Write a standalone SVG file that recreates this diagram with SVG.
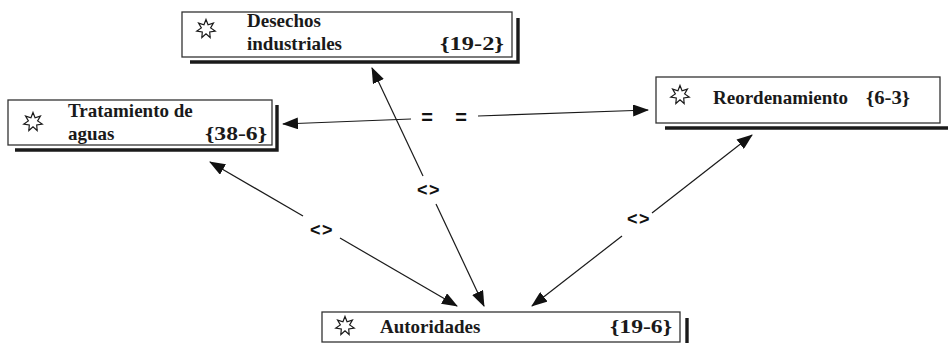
<svg xmlns="http://www.w3.org/2000/svg" width="948" height="343" viewBox="0 0 948 343">
  <style>
    .box { fill: #ffffff; stroke: #333333; stroke-width: 1.3; }
    .shadow { fill: none; stroke: #1a1a1a; stroke-width: 3.4; }
    .star { fill: #ffffff; stroke: #1a1a1a; stroke-width: 1.2; }
    .name { font-family: "Liberation Serif", serif; font-weight: bold; font-size: 19px; fill: #1a1a1a; }
    .link { fill: none; stroke: #1a1a1a; stroke-width: 1.2; }
    .rel { font-family: "Liberation Sans", sans-serif; font-weight: bold; font-size: 18px; fill: #111111; letter-spacing: 1.5px; }
    .eq { font-family: "Liberation Sans", sans-serif; font-weight: bold; font-size: 20px; fill: #111111; }
  </style>
  <defs>
    <polygon id="star7" class="star" points="0,-9.5 2.06,-4.28 7.43,-5.92 4.63,-1.06 9.26,2.11 3.72,2.97 4.12,8.56 0,4.75 -4.12,8.56 -3.72,2.97 -9.26,2.11 -4.63,-1.06 -7.43,-5.92 -2.06,-4.28"/>
    <marker id="head" viewBox="0 0 16 12" refX="15" refY="6" markerWidth="16" markerHeight="12" markerUnits="userSpaceOnUse" orient="auto-start-reverse">
      <path d="M0,0 L16,6 L0,12 Z" fill="#111111"/>
    </marker>
  </defs>

  <!-- connectors -->
  <g id="connectors">
    <!-- Tratamiento de aguas <-> Reordenamiento -->
    <path class="link" d="M283,124 L411,119" marker-start="url(#head)"/>
    <path class="link" d="M478,116 L648,110" marker-end="url(#head)"/>
    <text class="eq" x="427" y="124" text-anchor="middle">=</text>
    <text class="eq" x="461" y="124" text-anchor="middle">=</text>
    <!-- Desechos industriales <-> Autoridades -->
    <path class="link" d="M372,68 L423,176" marker-start="url(#head)"/>
    <path class="link" d="M436,204 L484,306" marker-end="url(#head)"/>
    <text class="rel" x="429" y="196" text-anchor="middle">&lt;&gt;</text>
    <!-- Tratamiento de aguas <-> Autoridades -->
    <path class="link" d="M210,162 L303,216" marker-start="url(#head)"/>
    <path class="link" d="M340,238 L457,306" marker-end="url(#head)"/>
    <text class="rel" x="322" y="236" text-anchor="middle">&lt;&gt;</text>
    <!-- Reordenamiento <-> Autoridades -->
    <path class="link" d="M752,135 L652,213" marker-start="url(#head)"/>
    <path class="link" d="M622,236 L532,306" marker-end="url(#head)"/>
    <text class="rel" x="639" y="225" text-anchor="middle">&lt;&gt;</text>
  </g>

  <g id="node-desechos">
    <polyline class="shadow" points="190,62 518,62 518,18"/>
    <rect class="box" x="182" y="12" width="330" height="45"/>
    <use href="#star7" x="206" y="29"/>
    <text class="name" x="247" y="27">Desechos</text>
    <text class="name" x="247" y="50">industriales</text>
    <text class="name" x="440" y="50" textLength="64" lengthAdjust="spacingAndGlyphs">{19-2}</text>
  </g>

  <g id="node-tratamiento">
    <polyline class="shadow" points="15,150 277,150 277,105"/>
    <rect class="box" x="8" y="100" width="264" height="45"/>
    <use href="#star7" x="33" y="122"/>
    <text class="name" x="68" y="117">Tratamiento de</text>
    <text class="name" x="68" y="140">aguas</text>
    <text class="name" x="205" y="140" textLength="62" lengthAdjust="spacingAndGlyphs">{38-6}</text>
  </g>

  <g id="node-reordenamiento">
    <polyline class="shadow" points="665,128 948,128"/>
    <rect class="box" x="656" y="77" width="284" height="46"/>
    <use href="#star7" x="680" y="95"/>
    <text class="name" x="713" y="104">Reordenamiento</text>
    <text class="name" x="866" y="104" textLength="44" lengthAdjust="spacingAndGlyphs">{6-3}</text>
  </g>

  <g id="node-autoridades">
    <polyline class="shadow" points="687,318 687,343"/>
    <rect class="box" x="322" y="312" width="358" height="30"/>
    <use href="#star7" x="345" y="326"/>
    <text class="name" x="380" y="333">Autoridades</text>
    <text class="name" x="610" y="333" textLength="62" lengthAdjust="spacingAndGlyphs">{19-6}</text>
  </g>
</svg>
